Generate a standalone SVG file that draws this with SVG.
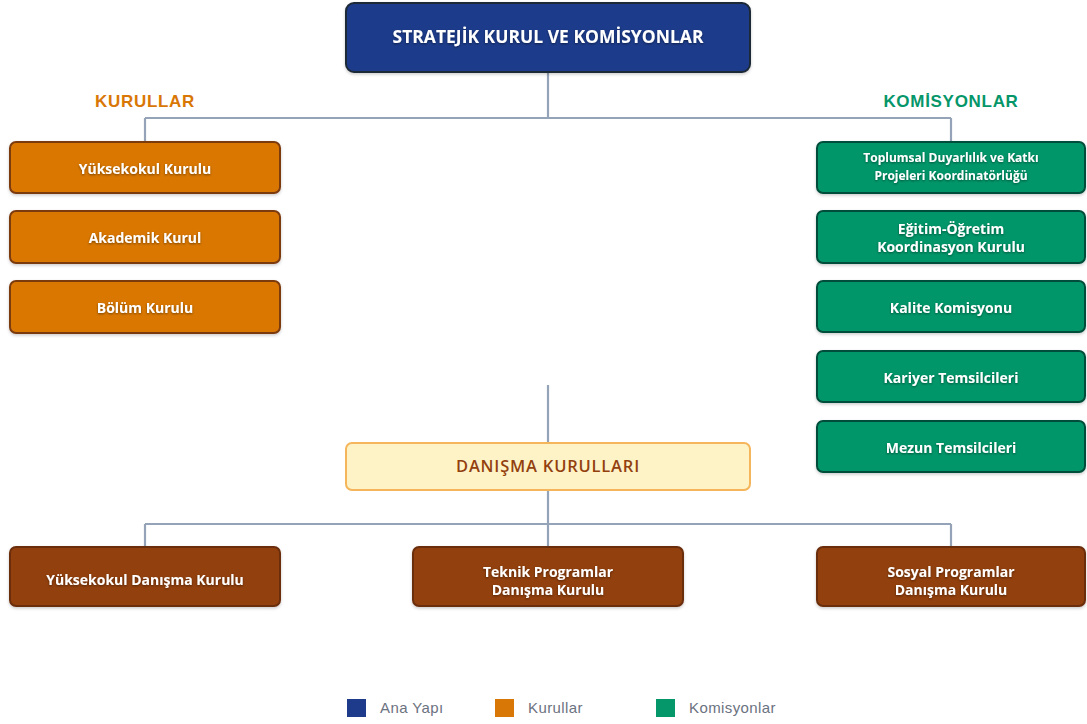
<svg xmlns="http://www.w3.org/2000/svg" width="1087" height="724" viewBox="0 0 1087 724">
<defs>
<filter id="ts" x="-10%" y="-50%" width="120%" height="200%"><feDropShadow dx="0" dy="1" stdDeviation="0.8" flood-color="#000" flood-opacity="0.45"/></filter>
<filter id="bs" x="-5%" y="-10%" width="110%" height="130%"><feDropShadow dx="0" dy="1.5" stdDeviation="1.5" flood-color="#000" flood-opacity="0.2"/></filter>
</defs>
<style>
text{font-family:"Open Sans","Liberation Sans",sans-serif;text-anchor:middle}
.lbl{fill:#fff;font-weight:700;font-size:14px}
.sm{font-size:12px}
.hdr{font-family:"Liberation Sans",Arial,sans-serif;font-size:17px;font-weight:700;letter-spacing:0.7px}
.main{fill:#1e3a8a;stroke:#1f2937;stroke-width:2}
.kur{fill:#d97706;stroke:#7c3a10;stroke-width:2}
.kom{fill:#059669;stroke:#064e3b;stroke-width:2}
.dan{fill:#92400e;stroke:#6b2d0a;stroke-width:2}
.conn{stroke:#94a3b8;stroke-width:2.2;fill:none}
.leg{font-family:"Liberation Sans",Arial,sans-serif;font-size:15px;fill:#6b7280;text-anchor:start;letter-spacing:0.4px}
</style>
<g id="connectors">
<path class="conn" d="M548 72 V118 M145 118 H951 M145 118 V142 M951 118 V142"/>
<path class="conn" d="M548 385 V443"/>
<path class="conn" d="M548 490 V524 M145 524 H951 M145 524 V547 M548 524 V547 M951 524 V547"/>
</g>
<g id="main"><rect class="main" x="346" y="3" width="404" height="69" rx="8" filter="url(#bs)"/><text class="lbl" x="548" y="43" style="font-size:17.5px" filter="url(#ts)">STRATEJİK KURUL VE KOMİSYONLAR</text></g>
<text class="hdr" x="145" y="107" style="fill:#d97706">KURULLAR</text>
<text class="hdr" x="951" y="107" style="fill:#059669">KOMİSYONLAR</text>
<g id="k1"><rect class="kur" x="10" y="142" width="270" height="51" rx="6" filter="url(#bs)"/><text class="lbl" x="145" y="174" filter="url(#ts)">Yüksekokul Kurulu</text></g>
<g id="k2"><rect class="kur" x="10" y="211" width="270" height="52" rx="6" filter="url(#bs)"/><text class="lbl" x="145" y="243" filter="url(#ts)">Akademik Kurul</text></g>
<g id="k3"><rect class="kur" x="10" y="281" width="270" height="52" rx="6" filter="url(#bs)"/><text class="lbl" x="145" y="313" filter="url(#ts)">Bölüm Kurulu</text></g>
<g id="c1"><rect class="kom" x="817" y="142" width="268" height="51" rx="6" filter="url(#bs)"/><text class="lbl sm" x="951" y="162" filter="url(#ts)">Toplumsal Duyarlılık ve Katkı</text><text class="lbl sm" x="951" y="180" filter="url(#ts)">Projeleri Koordinatörlüğü</text></g>
<g id="c2"><rect class="kom" x="817" y="211" width="268" height="52" rx="6" filter="url(#bs)"/><text class="lbl" x="951" y="234" filter="url(#ts)">Eğitim-Öğretim</text><text class="lbl" x="951" y="252" filter="url(#ts)">Koordinasyon Kurulu</text></g>
<g id="c3"><rect class="kom" x="817" y="281" width="268" height="51" rx="6" filter="url(#bs)"/><text class="lbl" x="951" y="313" filter="url(#ts)">Kalite Komisyonu</text></g>
<g id="c4"><rect class="kom" x="817" y="351" width="268" height="51" rx="6" filter="url(#bs)"/><text class="lbl" x="951" y="383" filter="url(#ts)">Kariyer Temsilcileri</text></g>
<g id="c5"><rect class="kom" x="817" y="421" width="268" height="51" rx="6" filter="url(#bs)"/><text class="lbl" x="951" y="453" filter="url(#ts)">Mezun Temsilcileri</text></g>
<g id="danisma"><rect x="346" y="443" width="404" height="47" rx="6" fill="#fef3c7" stroke="#f5b55a" stroke-width="2"/><text x="548" y="472" style="font-size:16.5px;font-weight:600;fill:#92400e;letter-spacing:0.8px">DANIŞMA KURULLARI</text></g>
<g id="d1"><rect class="dan" x="10" y="547" width="270" height="59" rx="6" filter="url(#bs)"/><text class="lbl" x="145" y="585" filter="url(#ts)">Yüksekokul Danışma Kurulu</text></g>
<g id="d2"><rect class="dan" x="413" y="547" width="270" height="59" rx="6" filter="url(#bs)"/><text class="lbl" x="548" y="577" filter="url(#ts)">Teknik Programlar</text><text class="lbl" x="548" y="595" filter="url(#ts)">Danışma Kurulu</text></g>
<g id="d3"><rect class="dan" x="817" y="547" width="268" height="59" rx="6" filter="url(#bs)"/><text class="lbl" x="951" y="577" filter="url(#ts)">Sosyal Programlar</text><text class="lbl" x="951" y="595" filter="url(#ts)">Danışma Kurulu</text></g>
<g id="legend">
<rect x="347" y="699" width="19" height="18" fill="#1e3a8a"/><text class="leg" x="380" y="713">Ana Yapı</text>
<rect x="495" y="699" width="19" height="18" fill="#d97706"/><text class="leg" x="528" y="713">Kurullar</text>
<rect x="656" y="699" width="19" height="18" fill="#059669"/><text class="leg" x="689" y="713">Komisyonlar</text>
</g>
</svg>
